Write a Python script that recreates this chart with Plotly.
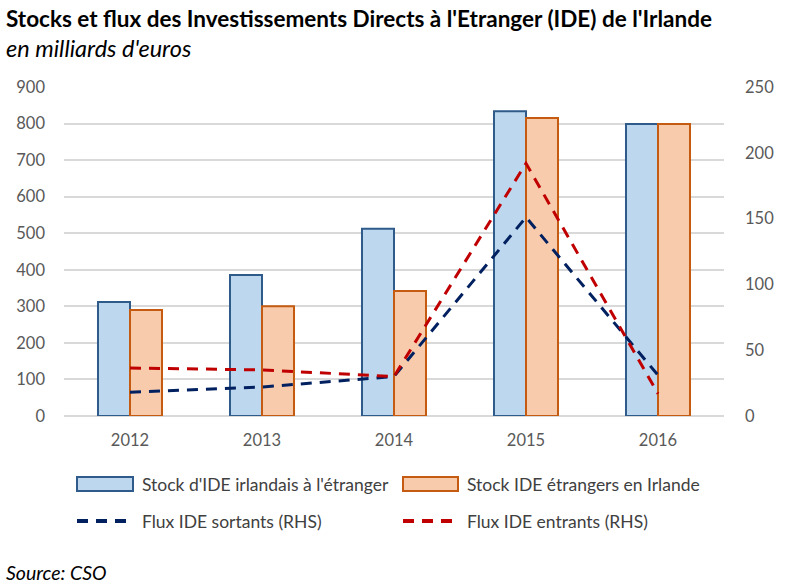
import plotly.graph_objects as go

years = ["2012", "2013", "2014", "2015", "2016"]
stock_out = [312, 386, 512, 834, 799]   # Stock d'IDE irlandais à l'étranger
stock_in = [290, 300, 342, 815, 799]    # Stock IDE étrangers en Irlande
flux_out = [18, 22, 30, 151, 31]        # Flux IDE sortants (RHS)
flux_in = [36.5, 35, 30, 192, 17]       # Flux IDE entrants (RHS)

W, H = 789, 586
L, R, T, B = 64, 65, 87, 170
PW, PH = W - L - R, H - T - B

def px(x):
    return (x - L) / PW

def py(y):
    return (H - B - y) / PH

FONT = "Lato"
BLUE_F, BLUE_E = "#BDD7EE", "#2E5B8A"
ORA_F, ORA_E = "#F8CBAD", "#C55A11"
NAVY, RED = "#002060", "#C00000"

fig = go.Figure()
fig.add_bar(x=years, y=stock_out, name="Stock d'IDE irlandais à l'étranger",
            marker=dict(color=BLUE_F, line=dict(color=BLUE_E, width=2)))
fig.add_bar(x=years, y=stock_in, name="Stock IDE étrangers en Irlande",
            marker=dict(color=ORA_F, line=dict(color=ORA_E, width=2)))
fig.add_scatter(x=years, y=flux_out, yaxis="y2", mode="lines", name="Flux IDE sortants (RHS)",
                line=dict(color=NAVY, width=3, dash="11px,8px"))
fig.add_scatter(x=years, y=flux_in, yaxis="y2", mode="lines", name="Flux IDE entrants (RHS)",
                line=dict(color=RED, width=3, dash="11px,8px"))

tickfont = dict(family=FONT, size=16.5, color="#595959")
fig.update_layout(
    width=W, height=H, margin=dict(l=L, r=R, t=T, b=B),
    paper_bgcolor="white", plot_bgcolor="white",
    showlegend=False, barmode="group", bargap=0.515, bargroupgap=0,
    xaxis=dict(tickfont=tickfont, showgrid=False, showline=False, ticks="", ticklabelstandoff=12),
    yaxis=dict(range=[0, 900], dtick=100, tickfont=tickfont, showgrid=True,
               gridcolor="#D9D9D9", gridwidth=2, zeroline=True, zerolinecolor="#D9D9D9",
               zerolinewidth=2, showline=False, ticks="", ticklabelstandoff=18),
    yaxis2=dict(range=[0, 250], dtick=50, overlaying="y", side="right", tickfont=tickfont,
                showgrid=False, zeroline=False, showline=False, ticks="", ticklabelstandoff=20),
)

ann = [
    dict(text="<b>Stocks et flux des Investissements Directs à l'Etranger (IDE) de l'Irlande</b>",
         x=px(4), y=py(18), font=dict(family=FONT, size=22.5, color="black")),
    dict(text="<i>en milliards d'euros</i>", x=px(4), y=py(48),
         font=dict(family=FONT, size=23.5, color="black")),
    dict(text="<i>Source: CSO</i>", x=px(4), y=py(572),
         font=dict(family=FONT, size=19.5, color="black")),
]
leg_font = dict(family=FONT, size=17.5, color="#404040")
legend_items = [
    (140, 484, "Stock d'IDE irlandais à l'étranger"),
    (465, 484, "Stock IDE étrangers en Irlande"),
    (140, 521, "Flux IDE sortants (RHS)"),
    (465, 521, "Flux IDE entrants (RHS)"),
]
for lx, ly, t in legend_items:
    ann.append(dict(text=t, x=px(lx), y=py(ly), font=leg_font))
for a in ann:
    a.update(xref="paper", yref="paper", xanchor="left", yanchor="middle", showarrow=False)
fig.update_layout(annotations=ann)

shapes = [
    dict(type="rect", x0=px(77), x1=px(133), y0=py(477), y1=py(491),
         fillcolor=BLUE_F, line=dict(color=BLUE_E, width=2)),
    dict(type="rect", x0=px(403), x1=px(458), y0=py(477), y1=py(491),
         fillcolor=ORA_F, line=dict(color=ORA_E, width=2)),
    dict(type="line", x0=px(77), x1=px(133), y0=py(521), y1=py(521),
         line=dict(color=NAVY, width=4, dash="11px,8px")),
    dict(type="line", x0=px(403), x1=px(458), y0=py(521), y1=py(521),
         line=dict(color=RED, width=4, dash="11px,8px")),
]
for s in shapes:
    s.update(xref="paper", yref="paper")
fig.update_layout(shapes=shapes)

fig.write_html("out.html")
